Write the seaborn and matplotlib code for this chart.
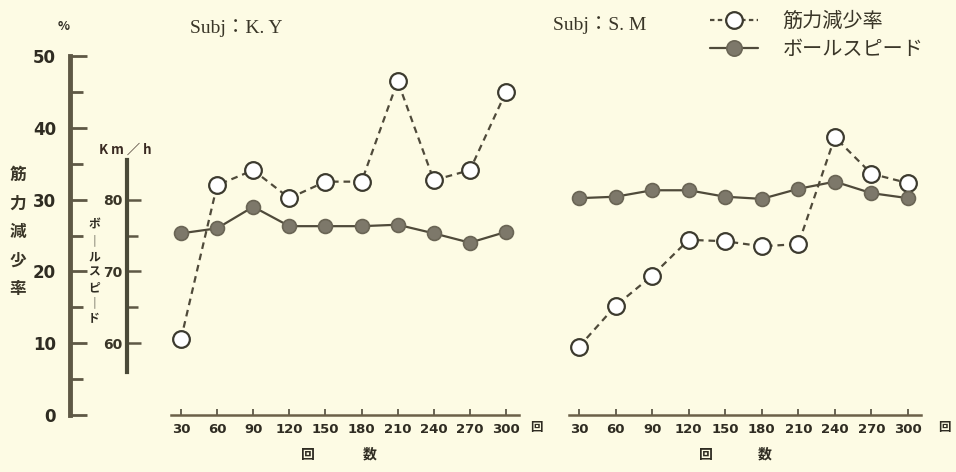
import matplotlib
matplotlib.use("Agg")
import matplotlib.pyplot as plt
import seaborn as sns
import pandas as pd
from matplotlib.font_manager import FontProperties
from matplotlib.lines import Line2D

sns.set_style("white")
plt.rcParams['font.family'] = ['Noto Sans CJK JP', 'DejaVu Sans']

# data
counts = [30, 60, 90, 120, 150, 180, 210, 240, 270, 300]
ky_rate = [10.6, 32.0, 34.1, 30.2, 32.5, 32.5, 46.5, 32.7, 34.1, 45.0]
ky_speed = [75.3, 76.0, 79.0, 76.3, 76.3, 76.3, 76.5, 75.3, 74.0, 75.5]
sm_rate = [9.5, 15.2, 19.4, 24.4, 24.2, 23.5, 23.8, 38.7, 33.6, 32.3]
sm_speed = [80.2, 80.4, 81.3, 81.3, 80.4, 80.1, 81.5, 82.5, 80.9, 80.2]

rate_ticks = [0, 10, 20, 30, 40, 50]
speed_ticks = [60, 70, 80]

W, H = 956, 472
BG = '#fdfbe4'
INK = '#4f4a3a'
GREY = '#7d786a'

# 0 % sits at y=415 px, 7.18 px per %
Y0, PPU = 415, 7.18
YLO, YHI = -5, 55
OFFSET = 50   # speed axis: 80 km/h lines up with 30 %


def fx(x):
    return x / W


def fy(y):
    return 1 - y / H


BOTTOM = fy(Y0 - YLO * PPU)
HEIGHT = (YHI - YLO) * PPU / H

NUM = ['Liberation Sans Narrow', 'DejaVu Sans']
num_font = FontProperties(family=NUM, weight='bold', size=9.5)
big_num = FontProperties(family=NUM, weight='bold', size=12)
jp = ['Noto Sans CJK JP', 'DejaVu Sans']

fig = plt.figure(figsize=(W / 100, H / 100), dpi=100, facecolor=BG)


def panel(x30, x300, rate, speed):
    ppx = (x300 - x30) / 270
    left = x30 - 10 * ppx
    ax = fig.add_axes([fx(left), BOTTOM, 290 * ppx / W, HEIGHT])
    ax.set_xlim(20, 310)
    ax.set_ylim(YLO, YHI)
    ax.patch.set_alpha(0)
    df = pd.DataFrame({'count': counts, 'rate': rate, 'speed': speed})

    ax2 = ax.twinx()
    ax2.set_ylim(YLO + OFFSET, YHI + OFFSET)
    sns.lineplot(data=df, x='count', y='speed', ax=ax2, color=INK, lw=1.6,
                 marker='o', markersize=10, markerfacecolor=GREY,
                 markeredgecolor='#6a6555', markeredgewidth=1.2)
    ax2.axis('off')

    sns.lineplot(data=df, x='count', y='rate', ax=ax, color=INK, lw=1.6,
                 linestyle=(0, (3, 2.2)), marker='o', markersize=12,
                 markerfacecolor='white', markeredgecolor='#3c3a2e',
                 markeredgewidth=1.6)
    ax.set_xlabel('')
    ax.set_ylabel('')
    for s in ['top', 'right', 'left']:
        ax.spines[s].set_visible(False)
    ax.spines['bottom'].set_position(('data', 0))
    ax.spines['bottom'].set_bounds(22, 311)
    ax.spines['bottom'].set_color('#6b6048')
    ax.spines['bottom'].set_linewidth(1.8)
    ax.set_yticks([])
    ax.set_xticks(counts)
    ax.tick_params(axis='x', bottom=True, direction='in', length=4, width=1.2, color=INK, pad=6)
    for lbl in ax.get_xticklabels():
        lbl.set_fontproperties(num_font)
        lbl.set_color('#2f2c22')
    return ax


ax1 = panel(181, 506, ky_rate, ky_speed)
ax2 = panel(579, 908, sm_rate, sm_speed)

# left: rate axis
axp = fig.add_axes([fx(70), BOTTOM, 0.02, HEIGHT])
axp.set_ylim(YLO, YHI)
axp.patch.set_alpha(0)
for s in ['top', 'right', 'bottom']:
    axp.spines[s].set_visible(False)
axp.spines['left'].set_bounds(0, 50)
axp.spines['left'].set_linewidth(3.5)
axp.spines['left'].set_color('#5e5845')
axp.set_xticks([])
axp.set_yticks(rate_ticks)
axp.set_yticks([5, 15, 25, 35, 45], minor=True)
axp.tick_params(axis='y', which='both', left=True)
axp.tick_params(axis='y', which='major', direction='in', length=12, width=2, color='#5e5845', pad=10)
axp.tick_params(axis='y', which='minor', direction='in', length=9, width=2, color='#5e5845')
for lbl in axp.get_yticklabels():
    lbl.set_fontproperties(big_num)
    lbl.set_color('#2f2c22')

# speed axis
axs = fig.add_axes([fx(127), BOTTOM, 0.02, HEIGHT])
axs.set_ylim(YLO + OFFSET, YHI + OFFSET)
axs.patch.set_alpha(0)
for s in ['top', 'right', 'bottom']:
    axs.spines[s].set_visible(False)
axs.spines['left'].set_bounds(56, 85.5)
axs.spines['left'].set_linewidth(3)
axs.spines['left'].set_color('#4a4a38')
axs.set_xticks([])
axs.set_yticks(speed_ticks)
axs.set_yticks([65, 75], minor=True)
axs.tick_params(axis='y', which='both', left=True)
axs.tick_params(axis='y', which='major', direction='in', length=10, width=1.8, color='#5e5845', pad=3)
axs.tick_params(axis='y', which='minor', direction='in', length=8, width=1.8, color='#5e5845')
for lbl in axs.get_yticklabels():
    lbl.set_fontproperties(FontProperties(family=NUM, weight='bold', size=10))
    lbl.set_color('#3a3628')

# axis captions
fig.text(fx(64), fy(27), '%', ha='center', va='center', fontsize=9, weight='bold', color='#2f2c22')
fig.text(fx(125), fy(150), 'K m ／ h', ha='center', va='center', fontsize=9.5, weight='bold',
         color='#3a2a22', family=jp)
fig.text(fx(18), fy(232), '\n'.join('筋力減少率'), ha='center', va='center', fontsize=12,
         weight='bold', linespacing=1.75, color='#3a3628', family=jp)
fig.text(fx(94), fy(272), '\n'.join('ボ｜ルスピ｜ド'), ha='center', va='center', fontsize=8.5,
         weight='bold', linespacing=1.25, color='#2f2c22', family=jp)

# titles
TITLE = ['Liberation Serif', 'Noto Sans CJK JP']
fig.text(fx(190), fy(28), 'Subj：K. Y', ha='left', va='center', fontsize=14,
         family=TITLE, color='#3a3628')
fig.text(fx(553), fy(25), 'Subj：S. M', ha='left', va='center', fontsize=14,
         family=TITLE, color='#3a3628')

# x units and labels
for x in [536, 944]:
    fig.text(fx(x), fy(428), '回', ha='center', va='center', fontsize=9, weight='bold',
             color='#2f2c22', family=jp)
for xa, xb in [(308, 370), (706, 765)]:
    fig.text(fx(xa), fy(455), '回', ha='center', va='center', fontsize=10, weight='bold',
             color='#2f2c22', family=jp)
    fig.text(fx(xb), fy(455), '数', ha='center', va='center', fontsize=10, weight='bold',
             color='#2f2c22', family=jp)

# legend
handles = [
    Line2D([], [], color=INK, lw=1.6, linestyle=(0, (2, 1.5)), marker='o', markersize=12,
           markerfacecolor='white', markeredgecolor='#3c3a2e', markeredgewidth=1.6),
    Line2D([], [], color=INK, lw=1.6, marker='o', markersize=11,
           markerfacecolor=GREY, markeredgecolor='#6a6555', markeredgewidth=1.2),
]
leg = fig.legend(handles, ['筋力減少率', 'ボールスピード'], loc='upper left',
                 bbox_to_anchor=(fx(700), fy(1)), frameon=False, handlelength=2.4,
                 handletextpad=1.2, labelspacing=0.35, borderpad=0,
                 prop={'family': jp, 'size': 14.5})
for t in leg.get_texts():
    t.set_color('#3a3628')

fig.savefig('out.png', dpi=100, facecolor=BG)
